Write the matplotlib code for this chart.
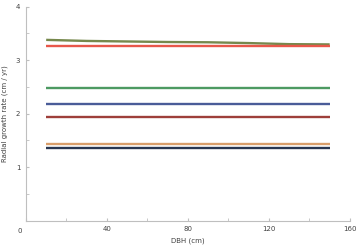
import numpy as np
import matplotlib
matplotlib.use('Agg')
from matplotlib import pyplot as plt
from matplotlib.ticker import MultipleLocator

# DBH values (cm)
dbh = [10, 30, 50, 70, 90, 110, 130, 150]

# radial growth rate (cm / yr) per series
olive = [3.38, 3.36, 3.35, 3.34, 3.335, 3.32, 3.30, 3.295]
red = [3.265] * 8
green = [2.475] * 8
blue = [2.19] * 8
darkred = [1.945] * 8
orange = [1.435] * 8
navy = [1.365] * 8

series = [olive, red, green, blue, darkred, orange, navy]
colors = ['#76884c', '#e8574a', '#4d9a62', '#4a5c98', '#9e3f3a', '#d99e6a', '#283650']

xticks = [0, 40, 80, 120, 160]
yticks = [1, 2, 3, 4]

fig = plt.figure(figsize=(3.6, 2.48), dpi=100)
ax = fig.add_axes([0.072, 0.11, 0.9, 0.863])

for vals, c in zip(series, colors):
    ax.plot(dbh, vals, color=c, lw=1.7, solid_capstyle='butt')

ax.set_xlim(0, 160)
ax.set_ylim(0, 4)
ax.set_xticks(xticks)
ax.set_xticklabels([''] + [str(t) for t in xticks[1:]])
ax.xaxis.set_minor_locator(MultipleLocator(20))
ax.set_yticks(yticks)
ax.yaxis.set_minor_locator(MultipleLocator(0.5))

# shared origin label, as in the original
ax.text(-0.018, -0.035, '0', transform=ax.transAxes, fontsize=5,
        color='#404040', ha='center', va='top')

for s in ['top', 'right']:
    ax.spines[s].set_visible(False)
for s in ['left', 'bottom']:
    ax.spines[s].set_color('#bfbfbf')
    ax.spines[s].set_linewidth(0.8)

ax.tick_params(which='both', direction='in', color='#bfbfbf', labelsize=5,
               labelcolor='#404040', pad=4, length=2)

ax.set_xlabel('DBH (cm)', fontsize=5, color='#404040', labelpad=4)
ax.set_ylabel('Radial growth rate (cm / yr)', fontsize=5, color='#404040', labelpad=6)

fig.savefig('out.png', dpi=100)
